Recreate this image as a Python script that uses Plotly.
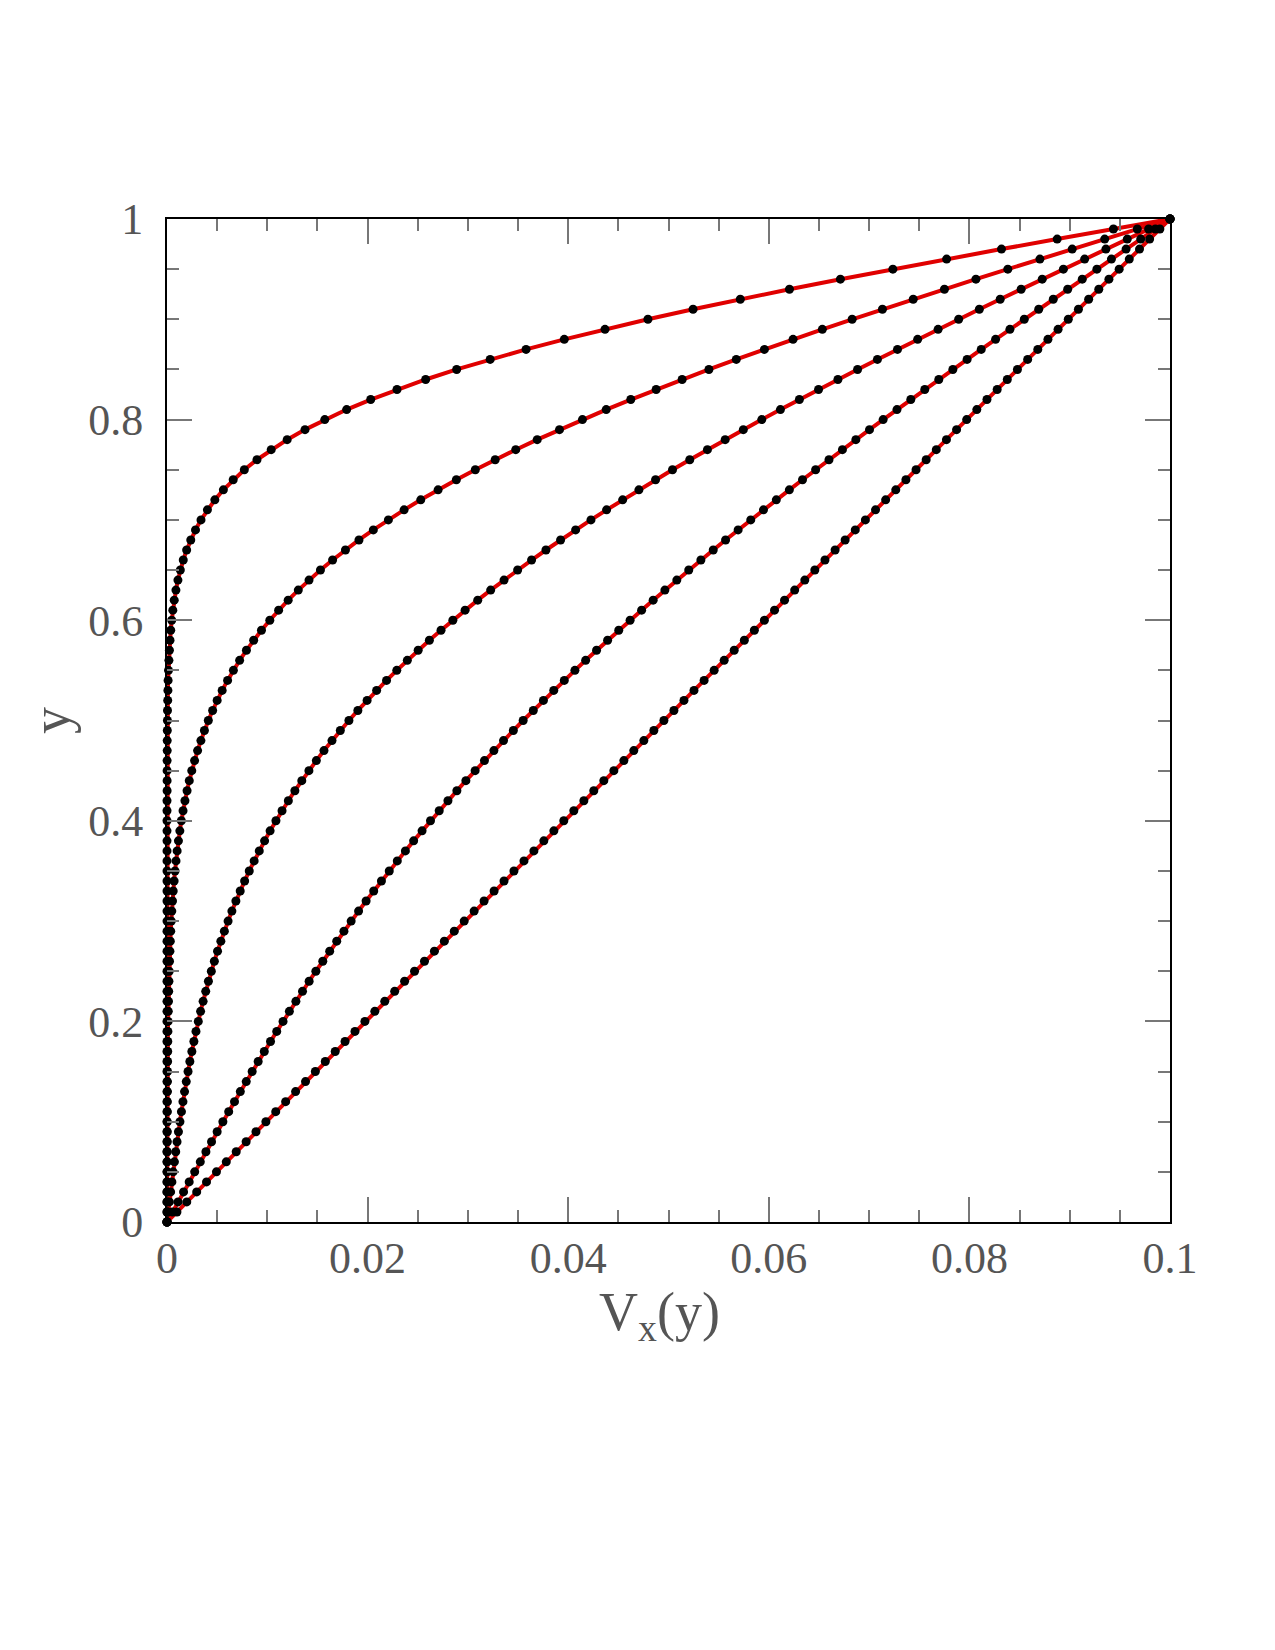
import plotly.graph_objects as go

# y positions of the sampled points (0 .. 1 in steps of 0.01)
y_vals = [i / 100 for i in range(101)]

# V_x(y) profiles (five times, earliest first)
vx_1 = [0.0] * 40 + [
    0.00000, 0.00000, 0.00000, 0.00001, 0.00001, 0.00001, 0.00001, 0.00002, 0.00002, 0.00003,
    0.00004, 0.00005, 0.00007, 0.00009, 0.00011, 0.00015, 0.00019, 0.00024, 0.00030, 0.00037,
    0.00047, 0.00058, 0.00072, 0.00089, 0.00109, 0.00133, 0.00162, 0.00196, 0.00237, 0.00284,
    0.00339, 0.00403, 0.00477, 0.00562, 0.00660, 0.00771, 0.00897, 0.01039, 0.01198, 0.01376,
    0.01573, 0.01791, 0.02031, 0.02293, 0.02579, 0.02888, 0.03222, 0.03580, 0.03961, 0.04367,
    0.04795, 0.05245, 0.05716, 0.06206, 0.06714, 0.07237, 0.07773, 0.08320, 0.08875, 0.09436,
    0.10000]

vx_2 = [
    0.00000, 0.00000, 0.00000, 0.00000, 0.00001, 0.00001, 0.00001, 0.00001, 0.00002, 0.00002,
    0.00002, 0.00003, 0.00003, 0.00004, 0.00004, 0.00005, 0.00006, 0.00007, 0.00008, 0.00009,
    0.00011, 0.00013, 0.00015, 0.00017, 0.00019, 0.00022, 0.00025, 0.00029, 0.00033, 0.00037,
    0.00043, 0.00048, 0.00055, 0.00062, 0.00071, 0.00080, 0.00090, 0.00101, 0.00114, 0.00128,
    0.00143, 0.00160, 0.00179, 0.00200, 0.00222, 0.00247, 0.00275, 0.00305, 0.00338, 0.00373,
    0.00412, 0.00455, 0.00500, 0.00550, 0.00604, 0.00662, 0.00724, 0.00792, 0.00864, 0.00942,
    0.01025, 0.01113, 0.01208, 0.01309, 0.01416, 0.01530, 0.01651, 0.01779, 0.01914, 0.02057,
    0.02207, 0.02364, 0.02530, 0.02703, 0.02885, 0.03074, 0.03272, 0.03477, 0.03691, 0.03913,
    0.04142, 0.04379, 0.04624, 0.04877, 0.05136, 0.05403, 0.05676, 0.05956, 0.06242, 0.06534,
    0.06831, 0.07133, 0.07440, 0.07751, 0.08065, 0.08383, 0.08703, 0.09025, 0.09349, 0.09674,
    0.10000]

vx_3 = [
    0.00000, 0.00012, 0.00024, 0.00036, 0.00049, 0.00061, 0.00074, 0.00087, 0.00100, 0.00114,
    0.00129, 0.00144, 0.00159, 0.00175, 0.00192, 0.00210, 0.00228, 0.00248, 0.00268, 0.00289,
    0.00312, 0.00335, 0.00360, 0.00386, 0.00413, 0.00442, 0.00472, 0.00504, 0.00537, 0.00572,
    0.00609, 0.00647, 0.00687, 0.00730, 0.00774, 0.00820, 0.00869, 0.00920, 0.00973, 0.01028,
    0.01086, 0.01147, 0.01210, 0.01275, 0.01344, 0.01415, 0.01489, 0.01565, 0.01645, 0.01728,
    0.01814, 0.01903, 0.01995, 0.02090, 0.02189, 0.02291, 0.02396, 0.02504, 0.02616, 0.02732,
    0.02850, 0.02972, 0.03098, 0.03227, 0.03360, 0.03496, 0.03635, 0.03778, 0.03924, 0.04074,
    0.04227, 0.04383, 0.04543, 0.04705, 0.04871, 0.05040, 0.05212, 0.05388, 0.05565, 0.05746,
    0.05930, 0.06116, 0.06305, 0.06496, 0.06689, 0.06885, 0.07083, 0.07283, 0.07484, 0.07688,
    0.07893, 0.08099, 0.08307, 0.08516, 0.08726, 0.08937, 0.09149, 0.09361, 0.09574, 0.09787,
    0.10000]

vx_4 = [
    0.00000, 0.00055, 0.00110, 0.00165, 0.00221, 0.00276, 0.00332, 0.00388, 0.00444, 0.00500,
    0.00557, 0.00615, 0.00673, 0.00731, 0.00790, 0.00849, 0.00909, 0.00970, 0.01032, 0.01094,
    0.01157, 0.01220, 0.01285, 0.01351, 0.01417, 0.01484, 0.01553, 0.01622, 0.01692, 0.01764,
    0.01836, 0.01910, 0.01985, 0.02061, 0.02138, 0.02216, 0.02296, 0.02377, 0.02459, 0.02543,
    0.02627, 0.02714, 0.02801, 0.02890, 0.02980, 0.03072, 0.03165, 0.03259, 0.03355, 0.03453,
    0.03551, 0.03652, 0.03753, 0.03856, 0.03961, 0.04067, 0.04174, 0.04283, 0.04393, 0.04504,
    0.04617, 0.04732, 0.04847, 0.04964, 0.05083, 0.05202, 0.05323, 0.05446, 0.05569, 0.05694,
    0.05820, 0.05947, 0.06075, 0.06205, 0.06336, 0.06467, 0.06600, 0.06734, 0.06868, 0.07004,
    0.07140, 0.07278, 0.07416, 0.07555, 0.07695, 0.07835, 0.07977, 0.08118, 0.08261, 0.08404,
    0.08547, 0.08691, 0.08836, 0.08980, 0.09125, 0.09271, 0.09416, 0.09562, 0.09708, 0.09854,
    0.10000]

vx_5 = [
    0.00000, 0.00099, 0.00197, 0.00296, 0.00394, 0.00493, 0.00591, 0.00690, 0.00789, 0.00887,
    0.00986, 0.01084, 0.01183, 0.01282, 0.01381, 0.01479, 0.01578, 0.01677, 0.01775, 0.01874,
    0.01973, 0.02072, 0.02171, 0.02270, 0.02369, 0.02468, 0.02567, 0.02666, 0.02765, 0.02864,
    0.02963, 0.03062, 0.03161, 0.03261, 0.03360, 0.03459, 0.03559, 0.03658, 0.03757, 0.03857,
    0.03956, 0.04056, 0.04156, 0.04255, 0.04355, 0.04455, 0.04555, 0.04654, 0.04754, 0.04854,
    0.04954, 0.05054, 0.05154, 0.05254, 0.05355, 0.05455, 0.05555, 0.05655, 0.05756, 0.05856,
    0.05956, 0.06057, 0.06157, 0.06258, 0.06359, 0.06459, 0.06560, 0.06661, 0.06761, 0.06862,
    0.06963, 0.07064, 0.07165, 0.07266, 0.07367, 0.07468, 0.07569, 0.07670, 0.07771, 0.07872,
    0.07973, 0.08074, 0.08175, 0.08277, 0.08378, 0.08479, 0.08581, 0.08682, 0.08783, 0.08884,
    0.08986, 0.09087, 0.09189, 0.09290, 0.09391, 0.09493, 0.09594, 0.09696, 0.09797, 0.09899,
    0.10000]

profiles = [vx_1, vx_2, vx_3, vx_4, vx_5]

x_tickvals = [0, 0.02, 0.04, 0.06, 0.08, 0.1]
x_ticktext = ["0", "0.02", "0.04", "0.06", "0.08", "0.1"]
y_tickvals = [0, 0.2, 0.4, 0.6, 0.8, 1]
y_ticktext = ["0", "0.2", "0.4", "0.6", "0.8", "1"]

LINE_RED = "#e00000"
TEXT_GREY = "#555555"
TICK_GREY = "#777777"
SERIF = "Liberation Serif, DejaVu Serif, serif"

fig = go.Figure()
# red lines first
for vx in profiles:
    fig.add_trace(go.Scatter(x=vx, y=y_vals, mode="lines",
                             line=dict(color=LINE_RED, width=4),
                             cliponaxis=False, showlegend=False, hoverinfo="skip"))
# black dots on top
for vx in profiles:
    fig.add_trace(go.Scatter(x=vx, y=y_vals, mode="markers",
                             marker=dict(color="black", size=9, line=dict(width=0)),
                             cliponaxis=False, showlegend=False))

tick_font = dict(family=SERIF, size=44, color=TEXT_GREY)

fig.update_xaxes(range=[0, 0.1], showgrid=False, zeroline=False,
                 showline=True, linecolor="black", linewidth=2, mirror="ticks",
                 ticks="inside", ticklen=25, tickwidth=1.5, tickcolor=TICK_GREY,
                 tickmode="array", tickvals=x_tickvals, ticktext=x_ticktext,
                 tickfont=tick_font, ticklabelstandoff=-4,
                 minor=dict(ticks="inside", ticklen=12, tickwidth=1.5, tickcolor=TICK_GREY,
                            dtick=0.005, tick0=0, showgrid=False))
fig.update_yaxes(range=[0, 1], showgrid=False, zeroline=False,
                 showline=True, linecolor="black", linewidth=2, mirror="ticks",
                 ticks="inside", ticklen=25, tickwidth=1.5, tickcolor=TICK_GREY,
                 tickmode="array", tickvals=y_tickvals, ticktext=y_ticktext,
                 tickfont=tick_font, ticklabelstandoff=13,
                 minor=dict(ticks="inside", ticklen=12, tickwidth=1.5, tickcolor=TICK_GREY,
                            dtick=0.05, tick0=0, showgrid=False))

# axis titles
fig.add_annotation(text="V<sub>x</sub>(y)", xref="paper", yref="paper",
                   x=0.4915, y=-0.058, xanchor="center", yanchor="top", showarrow=False,
                   font=dict(family=SERIF, size=54, color=TEXT_GREY))
fig.add_annotation(text="y", xref="paper", yref="paper",
                   x=-0.1157, y=0.5005, xanchor="center", yanchor="middle", showarrow=False,
                   textangle=-90,
                   font=dict(family=SERIF, size=54, color=TEXT_GREY))

fig.update_layout(width=1275, height=1650,
                  margin=dict(l=159, r=113, t=211, b=436, autoexpand=False),
                  plot_bgcolor="white", paper_bgcolor="white")

fig.write_html("out.html")
